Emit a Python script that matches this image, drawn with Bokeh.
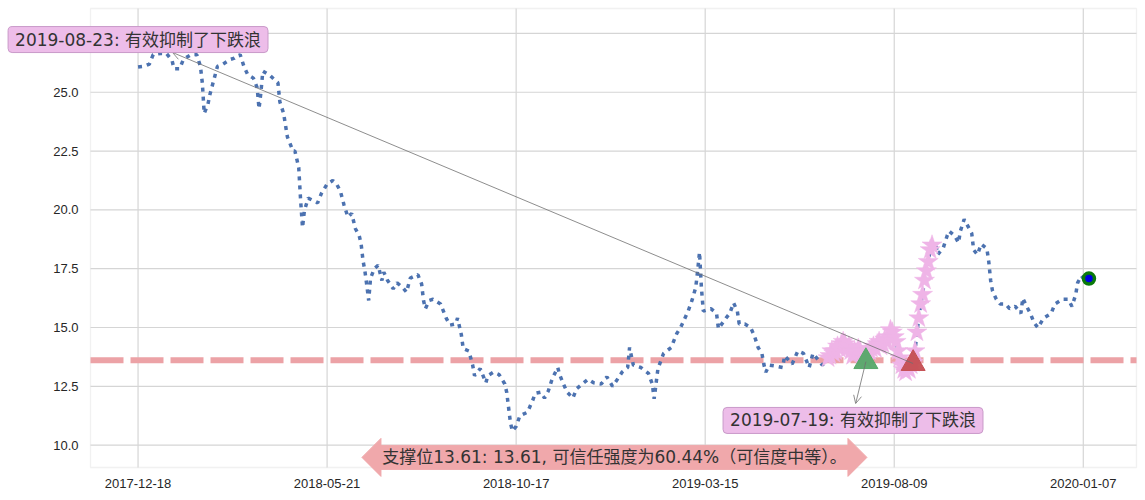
from bokeh.plotting import figure
from bokeh.models import (Range1d, FixedTicker, Label, Arrow, OpenHead, LinearAxis,
                          PolyAnnotation, BoxAnnotation, NumeralTickFormatter)
from bokeh.embed import file_html
from bokeh.resources import INLINE

# ---------------- data (trading-day index, close price) ----------------
idx = [0, 3, 6, 8, 12, 15, 18, 19, 22, 24, 28, 31, 33, 34, 35, 37, 38, 40, 42, 45,
       49, 51, 54, 56, 58, 61, 63, 64, 65, 66, 70, 74, 75, 77, 79, 82, 83, 85, 86, 87,
       88, 90, 95, 97, 100, 103, 105, 107, 109, 111, 113, 115, 117, 118, 119, 120, 121, 122, 123, 125,
       127, 129, 130, 132, 135, 137, 140, 142, 144, 148, 150, 151, 152, 154, 156, 160, 163, 165, 168, 169,
       171, 172, 175, 177, 178, 181, 184, 185, 188, 191, 194, 195, 196, 197, 198, 200, 202, 206, 209, 210,
       213, 215, 217, 219, 222, 223, 225, 227, 230, 232, 235, 238, 241, 245, 248, 251, 254, 256, 259, 260,
       262, 266, 270, 272, 273, 275, 278, 282, 285, 287, 291, 293, 295, 296, 297, 298, 299, 303, 306, 307,
       311, 313, 315, 317, 318, 321, 324, 326, 328, 330, 331, 332, 334, 338, 341, 342, 346, 349, 352, 355,
       357, 360, 362,
       365, 366, 367, 368, 369, 370, 371, 372, 373, 374, 375, 376, 377, 378, 379, 380, 381, 382, 383, 384,
       385, 386, 387, 388, 389, 390, 391, 392, 393, 394, 395, 396, 397, 398, 399, 400, 401, 402, 403, 404,
       405, 406, 407, 408, 409, 410, 411, 412, 413, 414, 415, 416, 417, 418, 419, 420,
       422, 423, 426, 428, 429, 432, 434, 435, 437, 441, 442, 444, 446,
       449, 450, 451, 452, 454, 456, 459, 461, 464, 467, 468, 470, 472, 474, 476, 479, 483, 485, 489, 492,
       494, 496, 497, 499, 500, 503]
price = [26.07, 26.1, 26.2, 26.6, 26.65, 26.65, 26.35, 26.0, 26.0, 26.4, 26.6, 26.6, 26.1, 25.4, 24.1, 24.5, 24.9, 25.5, 26.1, 26.2,
         26.4, 26.45, 26.6, 26.1, 25.75, 25.6, 25.2, 24.3, 25.0, 25.9, 25.7, 25.4, 24.6, 24.1, 23.1, 22.5, 22.5, 21.8, 20.4, 19.25,
         19.97, 20.5, 20.3, 20.7, 21.1, 21.25, 21.1, 20.8, 20.2, 19.7, 19.85, 19.2, 18.9, 18.55, 17.85, 17.4, 16.8, 16.15, 17.1, 17.5,
         17.65, 17.0, 17.35, 17.0, 16.65, 16.9, 16.7, 16.5, 17.1, 17.25, 16.85, 16.15, 15.8, 16.15, 16.2, 16.0, 15.4, 15.1, 15.15, 15.4,
         14.7, 14.1, 14.0, 13.4, 12.95, 13.25, 12.65, 12.95, 13.1, 13.0, 12.6, 12.25, 11.6, 10.95, 10.6, 10.8, 11.25, 11.4, 11.95, 12.2,
         12.25, 12.0, 12.3, 12.8, 13.3, 13.0, 12.6, 12.25, 12.0, 12.4, 12.6, 12.8, 12.65, 12.6, 12.9, 12.5, 12.85, 13.1, 13.3, 14.15,
         13.4, 13.3, 13.05, 12.6, 11.97, 13.25, 13.9, 14.15, 14.75, 15.0, 15.7, 16.15, 16.7, 17.4, 18.2, 16.7, 15.7, 15.8, 15.6, 14.95,
         15.4, 15.6, 16.05, 15.7, 15.15, 15.15, 15.0, 14.65, 14.15, 13.9, 13.45, 13.1, 13.4, 13.35, 13.3, 13.8, 13.45, 14.0, 13.9, 13.3,
         13.9, 13.6, 13.4,
         13.7, 13.8, 14.0, 13.9, 14.0, 14.2, 14.1, 14.3, 14.4, 14.3, 14.1, 14.2, 14.0, 13.8, 14.0, 13.9, 14.1, 14.0, 13.8, 13.7,
         13.6, 13.8, 14.0, 14.1, 14.2, 14.1, 14.3, 14.4, 14.2, 14.3, 14.5, 14.4, 14.6, 14.9, 14.8, 14.6, 14.4, 14.0, 13.7, 13.4,
         13.2, 13.1, 13.3, 13.2, 13.4, 13.5, 14.0, 14.8, 15.4, 16.0, 16.4, 17.0, 17.4, 17.8, 18.3, 18.5,
         18.55, 18.1, 18.4, 18.9, 19.1, 18.9, 18.6, 19.1, 19.6, 19.0, 18.3, 18.1, 18.55,
         18.35, 17.8, 17.0, 16.55, 16.2, 16.0, 16.0, 15.8, 15.9, 15.6, 16.25, 15.9, 15.6, 15.2, 14.99, 15.4, 15.6, 16.0, 16.2, 16.2,
         15.9, 16.4, 16.9, 17.2, 17.1, 17.08]

tick_pos = [0, 100, 200, 300, 400, 500]
tick_dates = ["2017-12-18", "2018-05-21", "2018-10-17", "2019-03-15", "2019-08-09", "2020-01-07"]
y_ticks = [10.0, 12.5, 15.0, 17.5, 20.0, 22.5, 25.0, 27.5]

support = 13.61
support_text = "支撑位13.61: 13.61, 可信任强度为60.44%（可信度中等）。"
star_lo, star_hi = 365, 420          # highlighted wave (index range)
buy_idx, buy_price = 385, 13.55      # 2019-07-19
sell_idx, sell_price = 410, 13.47    # 2019-08-23
buy_text = "2019-07-19: 有效抑制了下跌浪"
sell_text = "2019-08-23: 有效抑制了下跌浪"

# ---------------- layout ----------------
W, H = 1145, 500
AX_L, AX_R, AX_T, AX_B = 90, 1136, 8, 467      # axes box in pixels
X0, X1 = -25.15, 528.15                         # axes data limits
Y0, Y1 = 9.05, 28.56
SX = (AX_R - AX_L) / (X1 - X0)                  # px per unit
SY = (AX_B - AX_T) / (Y1 - Y0)
XR = Range1d(X0 - AX_L / SX, X1 + (W - AX_R) / SX)
YR = Range1d(Y0 - (H - AX_B) / SY, Y1 + AX_T / SY)

p = figure(width=W, height=H, x_range=XR, y_range=YR, output_backend="svg",
           toolbar_location=None, title=None, x_axis_location=None, y_axis_location=None,
           min_border=0, min_border_left=0, min_border_right=0, min_border_top=0, min_border_bottom=0)
p.background_fill_color = "white"
p.border_fill_color = "white"
p.outline_line_color = None
p.xgrid.visible = False
p.ygrid.visible = False

xaxis = LinearAxis(fixed_location=Y0, ticker=FixedTicker(ticks=tick_pos))
xaxis.major_label_overrides = {t: d for t, d in zip(tick_pos, tick_dates)}
yaxis = LinearAxis(fixed_location=X0, ticker=FixedTicker(ticks=y_ticks),
                   formatter=NumeralTickFormatter(format="0.0"))
for ax in (xaxis, yaxis):
    ax.axis_line_color = None
    ax.major_tick_line_color = None
    ax.minor_tick_line_color = None
    ax.major_tick_out = 0
    ax.major_tick_in = 0
    ax.minor_tick_out = 0
    ax.major_label_text_font = "Liberation Sans"
    ax.major_label_text_font_size = "13px"
    ax.major_label_text_color = "#262626"
xaxis.major_label_standoff = 11
yaxis.major_label_standoff = 12
p.add_layout(xaxis, "below")
p.add_layout(yaxis, "left")

GRID = "#d5d5d5"
# grid lines at tick positions, limited to the axes box
p.segment(x0=[X0] * len(y_ticks), y0=y_ticks, x1=[X1] * len(y_ticks), y1=y_ticks,
          line_color=GRID, line_width=1.2)
p.segment(x0=tick_pos, y0=[Y0] * len(tick_pos), x1=tick_pos, y1=[Y1] * len(tick_pos),
          line_color=GRID, line_width=1.2)
p.add_layout(BoxAnnotation(left=X0, right=X1, bottom=Y0, top=Y1, fill_alpha=0,
                           line_color="#d0d0d0", line_width=1.3, level="underlay"))

# support line
p.line([X0, X1], [support, support], line_color="#eca2a6", line_width=6, line_dash="33 7")

# price line
p.line(idx, price, line_color="#4c72b0", line_width=3.5, line_dash="4 5")

# highlighted wave
sx = [i for i in idx if star_lo <= i <= star_hi]
sy = [v for i, v in zip(idx, price) if star_lo <= i <= star_hi]
p.scatter(sx, sy, marker="star", size=21, fill_color="#efb4e7", line_color="#efb4e7", line_width=0.5)

# signals
p.scatter([buy_idx], [buy_price], marker="triangle", size=24, fill_color="#55a868", line_color="#55a868", fill_alpha=0.95)
p.scatter([sell_idx], [sell_price], marker="triangle", size=24, fill_color="#c44e52", line_color="#c44e52", fill_alpha=0.95)

# last point
p.scatter([idx[-1]], [price[-1]], marker="circle", size=11, fill_color="#0000e0", line_color="#0a7a0a", line_width=3.5)

# arrows from the signals to their notes
p.add_layout(Arrow(x_start=sell_idx, y_start=sell_price, x_end=18.25, y_end=26.69,
                   line_color="#707070", line_width=0.8,
                   end=OpenHead(size=8, line_color="#707070", line_width=0.8)))
p.add_layout(Arrow(x_start=buy_idx, y_start=buy_price, x_end=379.6, y_end=11.77,
                   line_color="#707070", line_width=0.8,
                   end=OpenHead(size=8, line_color="#707070", line_width=0.8)))

FONT = "'DejaVu Sans', 'Noto Sans CJK SC', sans-serif"

# double-arrow box for the support text (geometry in px around the text centre)
cx, cy = 252.0, 9.48
hw, hh, ex, tip = 233.5, 12.0, 7.0, 19.0
pts = [(-hw, -hh), (hw, -hh), (hw, -hh - ex), (hw + tip, 0), (hw, hh + ex), (hw, hh),
       (-hw, hh), (-hw, hh + ex), (-hw - tip, 0), (-hw, -hh - ex)]
p.add_layout(PolyAnnotation(xs=[cx + a / SX for a, b in pts], ys=[cy + b / SY for a, b in pts],
                            fill_color="#f0a8ab", fill_alpha=1.0, line_color="#f0a8ab", line_alpha=1.0))
p.add_layout(Label(x=cx, y=cy, text=support_text, text_font=FONT, text_font_size="17px",
                   text_color="#333333", text_align="center", text_baseline="middle"))

# signal notes
for lx, ly, t in [(0, 27.24, sell_text), (378.2, 11.05, buy_text)]:
    p.add_layout(Label(x=lx, y=ly, text=t, text_font=FONT, text_font_size="17px",
                       text_color="#333333", text_align="center", text_baseline="middle",
                       background_fill_color="#edbde9", background_fill_alpha=1.0,
                       border_line_color="#c99ac9", border_line_width=1,
                       padding=dict(x=7, y=3), border_radius=4))

open("out.html", "w").write(file_html(p, INLINE))
